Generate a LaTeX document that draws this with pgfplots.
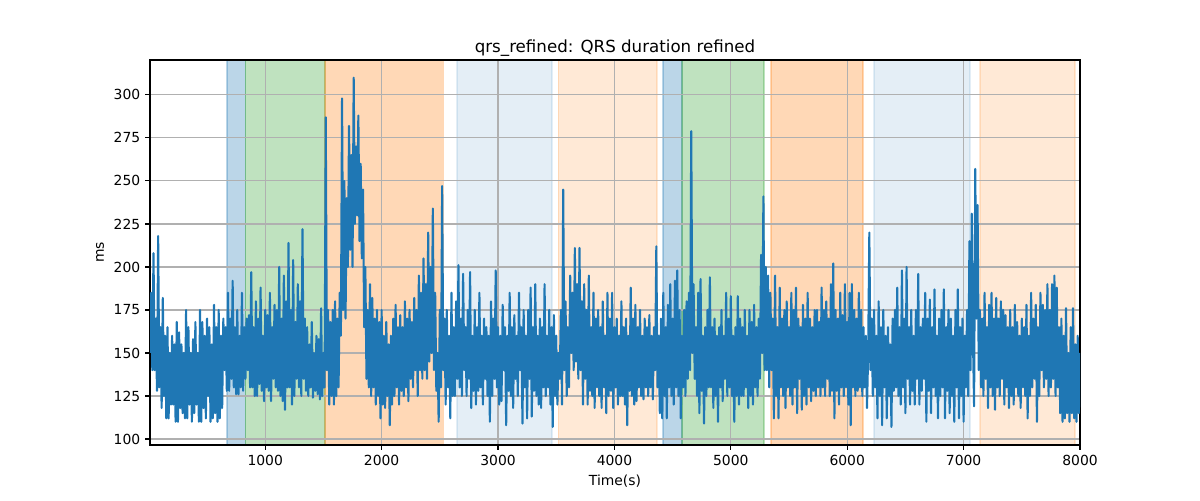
\documentclass[border=0pt]{standalone}
\usepackage{pgfplots}
\pgfplotsset{compat=1.18}
\usepackage{fontspec}
\setmainfont{DejaVu Sans}
\definecolor{tabblue}{HTML}{1F77B4}
\definecolor{taborange}{HTML}{FF7F0E}
\definecolor{tabgreen}{HTML}{2CA02C}
\definecolor{gridgray}{HTML}{B0B0B0}
\begin{document}
\begin{tikzpicture}
\begin{axis}[
 set layers,
 at={(0,0)}, anchor=south west,
 scale only axis, width=669.6pt, height=277.2pt,
 xmin=10, xmax=8000, ymin=96.5, ymax=320.3,
 xtick={1000,2000,...,8000}, ytick={100,125,...,300},
 grid=major, grid style={gridgray, line width=0.8pt},
 axis line style={line width=0.8pt},
 tick style={black, line width=0.8pt},
 tick align=outside, tick pos=left, major tick length=3.5pt,
 ticklabel style={font=\fontsize{10}{12}\selectfont},
 /pgf/number format/assume math mode=true,
 /pgf/number format/set thousands separator={},
 title={qrs\_refined: QRS duration refined},
 title style={font=\fontsize{12}{14}\selectfont, at={(0.5,1)}, anchor=south, inner sep=0pt, yshift=-3.4pt},
 xlabel={Time(s)}, ylabel={ms},
 label style={font=\fontsize{10}{12}\selectfont},
]
% shaded spans
\addplot[on layer=axis background, fill=tabblue, fill opacity=0.3, draw=tabblue, draw opacity=0.3, line width=1pt] coordinates {(673,96.5) (828,96.5) (828,320.3) (673,320.3)} -- cycle;
\addplot[on layer=axis background, fill=tabgreen, fill opacity=0.3, draw=tabgreen, draw opacity=0.3, line width=1pt] coordinates {(828,96.5) (1515,96.5) (1515,320.3) (828,320.3)} -- cycle;
\addplot[on layer=axis background, fill=taborange, fill opacity=0.3, draw=taborange, draw opacity=0.3, line width=1pt] coordinates {(1515,96.5) (2529,96.5) (2529,320.3) (1515,320.3)} -- cycle;
\addplot[on layer=axis background, fill=tabblue, fill opacity=0.12, draw=tabblue, draw opacity=0.12, line width=1pt] coordinates {(2649,96.5) (3465,96.5) (3465,320.3) (2649,320.3)} -- cycle;
\addplot[on layer=axis background, fill=taborange, fill opacity=0.17, draw=taborange, draw opacity=0.17, line width=1pt] coordinates {(3517,96.5) (4367,96.5) (4367,320.3) (3517,320.3)} -- cycle;
\addplot[on layer=axis background, fill=tabblue, fill opacity=0.3, draw=tabblue, draw opacity=0.3, line width=1pt] coordinates {(4418,96.5) (4582,96.5) (4582,320.3) (4418,320.3)} -- cycle;
\addplot[on layer=axis background, fill=tabgreen, fill opacity=0.3, draw=tabgreen, draw opacity=0.3, line width=1pt] coordinates {(4582,96.5) (5286,96.5) (5286,320.3) (4582,320.3)} -- cycle;
\addplot[on layer=axis background, fill=taborange, fill opacity=0.3, draw=taborange, draw opacity=0.3, line width=1pt] coordinates {(5346,96.5) (6136,96.5) (6136,320.3) (5346,320.3)} -- cycle;
\addplot[on layer=axis background, fill=tabblue, fill opacity=0.12, draw=tabblue, draw opacity=0.12, line width=1pt] coordinates {(6230,96.5) (7055,96.5) (7055,320.3) (6230,320.3)} -- cycle;
\addplot[on layer=axis background, fill=taborange, fill opacity=0.17, draw=taborange, draw opacity=0.17, line width=1pt] coordinates {(7141,96.5) (7957,96.5) (7957,320.3) (7141,320.3)} -- cycle;
% signal
\addplot[tabblue, line width=1.5pt, line join=round, mark=none] coordinates {
(10,150) (20,185) (30,140) (40,208) (50,140) (60,170) (70,128) (80,218) (90,130) (100,165)
(110,118) (120,182) (130,125) (140,160) (150,112) (160,165) (170,112) (180,150) (190,120) (200,160)
(210,120) (220,155) (230,110) (240,168) (250,110) (260,162) (270,118) (280,155) (290,115) (300,150)
(310,112) (320,175) (330,112) (340,165) (350,120) (360,150) (370,110) (380,158) (390,115) (400,168)
(410,120) (420,150) (430,110) (440,175) (450,110) (460,168) (470,118) (480,160) (490,112) (500,170)
(510,125) (520,165) (530,110) (540,155) (550,112) (560,178) (570,115) (580,165) (590,110) (600,175)
(610,112) (620,160) (630,118) (640,170) (650,140) (660,165) (670,128) (680,185)
(690,128) (700,170) (710,135) (720,192) (730,130) (740,165) (750,126) (760,175) (770,126) (780,160)
(790,130) (800,185) (810,128) (820,165) (830,135) (840,170)
(850,140) (860,172) (870,130) (880,197) (890,130) (900,165) (910,125) (920,180) (930,125) (940,170)
(950,132) (960,188) (970,128) (980,160) (990,122) (1000,175) (1010,130) (1020,172) (1030,128) (1040,185)
(1050,122) (1060,165) (1070,135) (1080,178) (1090,130) (1100,175) (1110,128) (1120,200) (1130,125) (1140,170)
(1150,122) (1160,195) (1170,117) (1180,180) (1190,130) (1200,214) (1210,130) (1220,175) (1230,120) (1240,204)
(1250,125) (1260,168) (1270,135) (1280,190) (1290,130) (1300,180) (1310,125) (1320,222) (1330,135) (1340,170)
(1350,128) (1360,165) (1370,125) (1380,155) (1390,130) (1400,168) (1410,124) (1420,150) (1430,128) (1440,160)
(1450,126) (1460,158) (1470,123) (1480,176) (1490,125) (1500,150) (1510,130) (1520,287)
(1530,140) (1540,175) (1550,120) (1560,168) (1570,125) (1580,175) (1590,120) (1600,180) (1610,125) (1620,170)
(1630,130) (1640,185) (1650,160) (1660,298) (1670,175) (1680,250) (1690,170) (1700,240) (1710,200) (1720,282)
(1730,210) (1740,265) (1750,200) (1760,310) (1770,225) (1780,270) (1790,230) (1800,288) (1810,215) (1820,260)
(1830,205) (1840,245) (1850,165) (1860,200) (1870,135)
(1880,175) (1890,130) (1900,190) (1910,125) (1920,182) (1930,130) (1940,170) (1950,120) (1960,175) (1970,125)
(1980,168) (1990,112) (2000,175) (2010,120) (2020,160) (2030,118) (2040,168) (2050,125) (2060,155) (2070,108)
(2080,160) (2090,120) (2100,170) (2110,125) (2120,178) (2130,130) (2140,165) (2150,120) (2160,172) (2170,128)
(2180,165) (2190,125) (2200,180) (2210,130) (2220,170) (2230,122) (2240,175) (2250,135) (2260,168) (2270,130)
(2280,182) (2290,140) (2300,175) (2310,125) (2320,195) (2330,140) (2340,185) (2350,135) (2360,205) (2370,140)
(2380,190) (2390,135) (2400,220) (2410,145) (2420,200) (2430,150) (2440,234) (2450,140) (2460,185) (2470,128)
(2480,150) (2490,110) (2500,175) (2510,130) (2520,247) (2530,140)
(2540,170) (2550,120) (2560,175) (2570,130) (2580,160) (2590,112) (2600,185) (2610,125) (2620,165) (2630,125)
(2640,180) (2650,135)
(2660,201) (2670,130) (2680,170) (2690,125) (2700,196) (2710,140) (2720,165) (2730,125) (2740,175) (2750,135)
(2760,197) (2770,118) (2780,160) (2790,128) (2800,175) (2810,120) (2820,165) (2830,128) (2840,185) (2850,130)
(2860,160) (2870,120) (2880,170) (2890,135) (2900,165) (2910,125) (2920,160) (2930,110) (2940,180) (2950,125)
(2960,170) (2970,135) (2980,198) (2990,130) (3000,165) (3010,120) (3020,160) (3030,122) (3040,178) (3050,140)
(3060,165) (3070,108) (3080,160) (3090,128) (3100,185) (3110,125) (3120,165) (3130,118) (3140,172) (3150,135)
(3160,160) (3170,125) (3180,185) (3190,140) (3200,165) (3210,109) (3220,175) (3230,130) (3240,160) (3250,112)
(3260,175) (3270,135) (3280,188) (3290,113) (3300,165) (3310,128) (3320,190) (3330,125) (3340,160) (3350,120)
(3360,170) (3370,118) (3380,165) (3390,130) (3400,190) (3410,125) (3420,160) (3430,130) (3440,175) (3450,120)
(3460,165) (3470,107) (3480,172) (3490,125) (3500,160) (3510,120)
(3520,150) (3530,135) (3540,175) (3550,120) (3560,245) (3570,140) (3580,180) (3590,125) (3600,165) (3610,130)
(3620,195) (3630,150) (3640,185) (3650,140) (3660,211) (3670,145) (3680,190) (3690,135) (3700,211) (3710,140)
(3720,180) (3730,120) (3740,190) (3750,135) (3760,175) (3770,120) (3780,195) (3790,128) (3800,165) (3810,125)
(3820,185) (3830,118) (3840,170) (3850,130) (3860,175) (3870,125) (3880,165) (3890,118) (3900,180) (3910,130)
(3920,160) (3930,115) (3940,185) (3950,125) (3960,170) (3970,128) (3980,185) (3990,118) (4000,165) (4010,130)
(4020,170) (4030,120) (4040,160) (4050,125) (4060,180) (4070,125) (4080,165) (4090,120) (4100,170) (4110,108)
(4120,160) (4130,128) (4140,188) (4150,125) (4160,170) (4170,120) (4180,178) (4190,122) (4200,165) (4210,130)
(4220,175) (4230,125) (4240,160) (4250,123) (4260,170) (4270,130) (4280,165) (4290,125) (4300,172) (4310,130)
(4320,160) (4330,123) (4340,165) (4350,140) (4360,212)
(4370,130) (4380,160) (4390,115) (4400,170) (4410,112)
(4420,185) (4430,125) (4440,165) (4450,112) (4460,178) (4470,130) (4480,190) (4490,125) (4500,170) (4510,120)
(4520,192) (4530,130) (4540,198) (4550,125) (4560,175) (4570,112)
(4580,160) (4590,130) (4600,175) (4610,125) (4620,180) (4630,135) (4640,185) (4650,140) (4660,279) (4670,150)
(4680,190) (4690,135) (4700,165) (4710,125) (4720,185) (4730,115) (4740,193) (4750,128) (4760,160) (4770,109)
(4780,165) (4790,125) (4800,175) (4810,130) (4820,194) (4830,130) (4840,165) (4850,118) (4860,170) (4870,125)
(4880,160) (4890,110) (4900,165) (4910,130) (4920,175) (4930,122) (4940,160) (4950,135) (4960,185) (4970,125)
(4980,170) (4990,130) (5000,183) (5010,125) (5020,160) (5030,110) (5040,165) (5050,125) (5060,183) (5070,120)
(5080,170) (5090,125) (5100,165) (5110,125) (5120,175) (5130,130) (5140,160) (5150,118) (5160,175) (5170,125)
(5180,168) (5190,120) (5200,178) (5210,130) (5220,165) (5230,125) (5240,170) (5250,135) (5260,207) (5270,150)
(5280,241) (5290,140)
(5300,200) (5310,140) (5320,195) (5330,130) (5340,185)
(5350,140) (5360,170) (5370,112) (5380,195) (5390,125) (5400,165) (5410,112) (5420,188) (5430,130) (5440,170)
(5450,125) (5460,175) (5470,118) (5480,180) (5490,130) (5500,165) (5510,125) (5520,185) (5530,120) (5540,175)
(5550,130) (5560,188) (5570,115) (5580,170) (5590,135) (5600,165) (5610,117) (5620,178) (5630,125) (5640,170)
(5650,120) (5660,185) (5670,130) (5680,170) (5690,122) (5700,165) (5710,128) (5720,175) (5730,125) (5740,175)
(5750,130) (5760,168) (5770,125) (5780,188) (5790,130) (5800,175) (5810,125) (5820,180) (5830,135) (5840,170)
(5850,125) (5860,190) (5870,128) (5880,202) (5890,112) (5900,175) (5910,128) (5920,170) (5930,120) (5940,185)
(5950,130) (5960,172) (5970,125) (5980,190) (5990,130) (6000,168) (6010,120) (6020,185) (6030,108) (6040,190)
(6050,130) (6060,175) (6070,125) (6080,170) (6090,128) (6100,185) (6110,130) (6120,175) (6130,125)
(6140,165) (6150,130) (6160,160) (6170,118) (6180,150) (6190,220) (6200,140) (6210,170) (6220,125)
(6230,175) (6240,130) (6250,160) (6260,112) (6270,180) (6280,125) (6290,165) (6300,108) (6310,175) (6320,130)
(6330,160) (6340,112) (6350,165) (6360,125) (6370,155) (6380,107) (6390,170) (6400,128) (6410,175) (6420,130)
(6430,188) (6440,125) (6450,165) (6460,120) (6470,198) (6480,130) (6490,170) (6500,115) (6510,200) (6520,135)
(6530,165) (6540,120) (6550,175) (6560,128) (6570,160) (6580,120) (6590,175) (6600,135) (6610,196) (6620,120)
(6630,165) (6640,128) (6650,170) (6660,135) (6670,185) (6680,110) (6690,170) (6700,128) (6710,181) (6720,115)
(6730,165) (6740,130) (6750,187) (6760,125) (6770,160) (6780,112) (6790,170) (6800,125) (6810,175) (6820,130)
(6830,187) (6840,112) (6850,165) (6860,128) (6870,175) (6880,115) (6890,170) (6900,125) (6910,160) (6920,110)
(6930,175) (6940,130) (6950,187) (6960,112) (6970,165) (6980,125) (6990,170) (7000,110) (7010,160) (7020,130)
(7030,175) (7040,125) (7050,215) (7060,140) (7070,231) (7080,160) (7090,119) (7100,257) (7110,170) (7120,236)
(7130,140)
(7140,175) (7150,130) (7160,170) (7170,125) (7180,185) (7190,135) (7200,165) (7210,118) (7220,178) (7230,130)
(7240,185) (7250,125) (7260,170) (7270,117) (7280,182) (7290,130) (7300,170) (7310,125) (7320,180) (7330,135)
(7340,175) (7350,120) (7360,172) (7370,130) (7380,165) (7390,118) (7400,175) (7410,125) (7420,165) (7430,120)
(7440,178) (7450,130) (7460,168) (7470,125) (7480,160) (7490,118) (7500,170) (7510,130) (7520,165) (7530,125)
(7540,178) (7550,112) (7560,160) (7570,125) (7580,185) (7590,130) (7600,170) (7610,135) (7620,178) (7630,110)
(7640,165) (7650,125) (7660,185) (7670,140) (7680,178) (7690,130) (7700,175) (7710,135) (7720,190) (7730,125)
(7740,175) (7750,130) (7760,190) (7770,135) (7780,195) (7790,125) (7800,188) (7810,130) (7820,165) (7830,115)
(7840,170) (7850,110) (7860,160) (7870,112) (7880,176) (7890,115) (7900,150) (7910,110) (7920,165) (7930,115)
(7940,176) (7950,112) (7960,155) (7970,110) (7980,160) (7990,115) (8000,150)
};
\end{axis}
\path (-108pt,-39.6pt) rectangle (756pt,320.4pt);
\end{tikzpicture}
\end{document}
